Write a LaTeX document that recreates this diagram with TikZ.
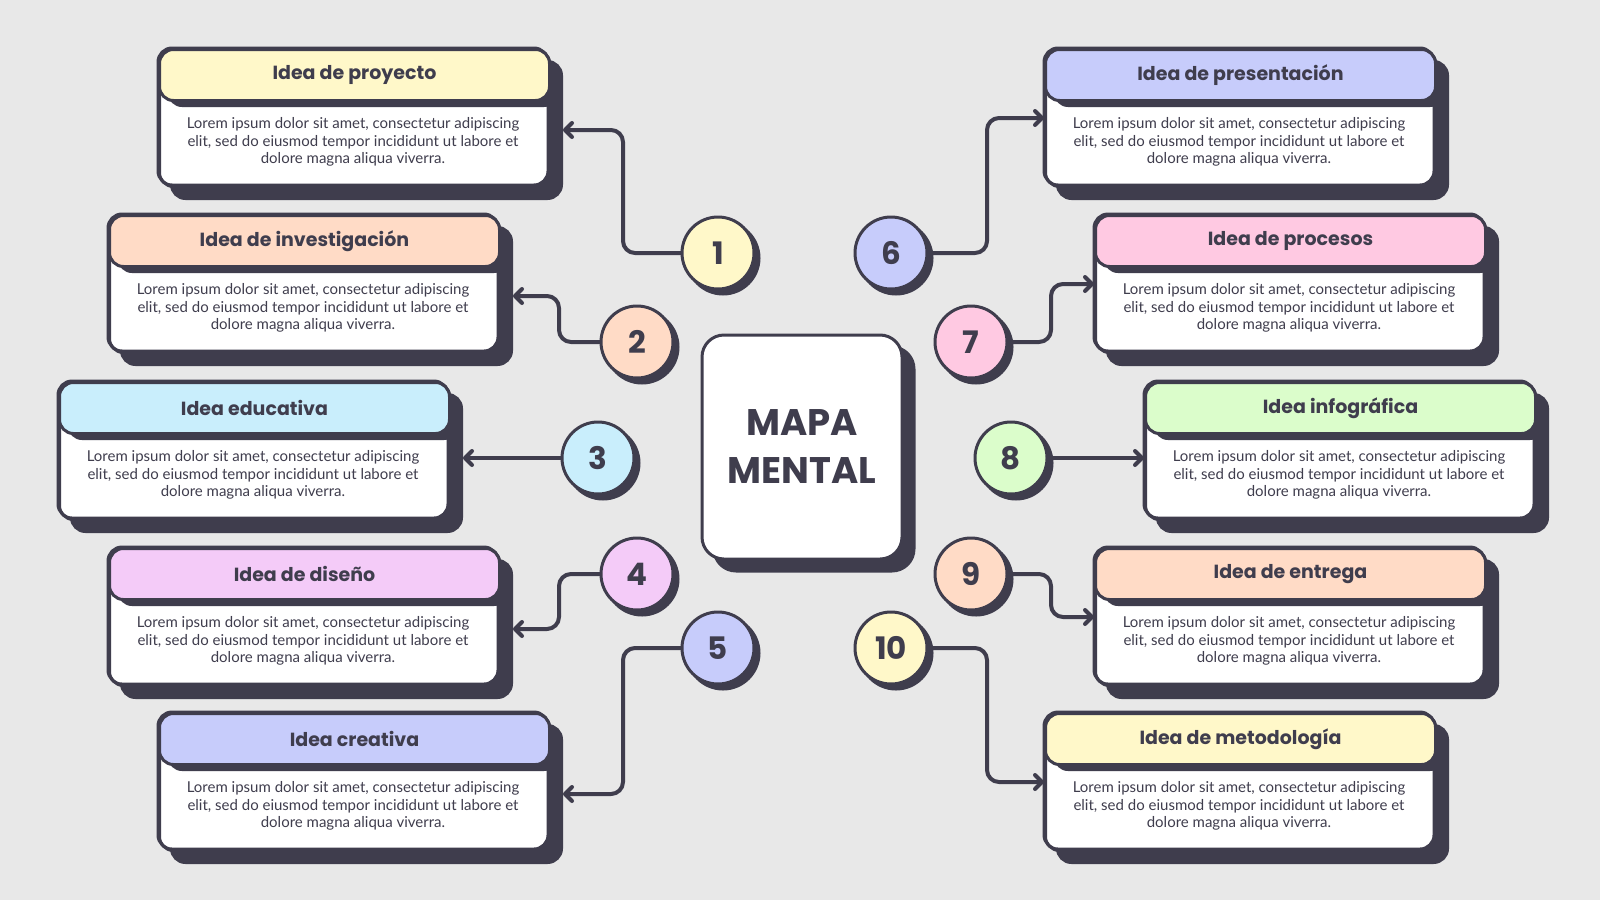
\documentclass[tikz,border=0pt]{standalone}
\usepackage{fontspec}
\setmainfont{Lato}
\newfontfamily\titlefont{Poppins}
\usetikzlibrary{arrows.meta}
\definecolor{bg}{HTML}{E8E8E8}
\definecolor{ink}{HTML}{3F3D4D}
\definecolor{cyel}{HTML}{FFF8C9}
\definecolor{cpea}{HTML}{FFDBC6}
\definecolor{cblu}{HTML}{C9EEFC}
\definecolor{cpur}{HTML}{F4CBF8}
\definecolor{clav}{HTML}{C7CCFB}
\definecolor{cpnk}{HTML}{FFC9E2}
\definecolor{cgrn}{HTML}{DBFDCB}
\tikzset{
  cardshadow/.style={fill=ink, draw=ink, line width=3pt, rounded corners=14pt,
    minimum width=390pt, minimum height=137pt, anchor=north west, inner sep=0pt},
  cardbody/.style={fill=white, draw=ink, line width=3pt, rounded corners=14pt,
    minimum width=390pt, minimum height=137pt, anchor=north west, inner sep=0pt},
  cardhead/.style={draw=ink, line width=3pt, rounded corners=14pt,
    minimum width=390pt, minimum height=51pt, anchor=north west, inner sep=0pt,
    text=ink, font=\titlefont\bfseries\fontsize{19}{22}\selectfont},
  cardtext/.style={text=ink, align=center, inner sep=0pt,
    font=\fontsize{15}{17.5}\selectfont},
  numshadow/.style={circle, fill=ink, draw=ink, line width=3pt, minimum size=72pt, inner sep=0pt},
  numcirc/.style={circle, draw=ink, line width=3pt, minimum size=72pt, inner sep=0pt,
    text=ink, font=\titlefont\bfseries\fontsize{31}{31}\selectfont},
  conn/.style={draw=ink, line width=4pt, line cap=round, line join=round, rounded corners=12pt,
    -{Straight Barb[length=7pt,width=14pt,line cap=round,line join=round]}},
}
\newcommand\ideacard[5]{%
  \node[cardshadow] (s#1) at ({#2+12},{#3+12}) {};
  \node[cardbody] (b#1) at (#2,#3) {};
  \begin{scope}
    \clip[rounded corners=14pt] (#2,#3) rectangle ++(390,137);
    \fill[ink, rounded corners=14pt] ({#2+10},{#3+8}) rectangle ++(390,51);
  \end{scope}
  \draw[ink, line width=3pt, rounded corners=14pt] (#2,#3) rectangle ++(390,137);
  \node[cardhead, fill=#4] (h#1) at (#2,#3) {#5};
  \node[cardtext] (t#1) at ({#2+195},{#3+94}) {Lorem ipsum dolor sit amet, consectetur adipiscing\\elit, sed do eiusmod tempor incididunt ut labore et\\dolore magna aliqua viverra.};
}
\newcommand\numnode[5]{%
  \node[numshadow] (ns#1) at ({#2+5},{#3+5}) {};
  \node[numcirc, fill=#4] (n#1) at (#2,#3) {#5};
}
\begin{document}
\begin{tikzpicture}[x=1pt,y=-1pt]
\fill[bg] (0,0) rectangle (1600,900);
\useasboundingbox (0,0) rectangle (1600,900);

\ideacard{1}{158}{48}{cyel}{Idea de proyecto}
\ideacard{2}{108}{214}{cpea}{Idea de investigación}
\ideacard{3}{58}{381}{cblu}{Idea educativa}
\ideacard{4}{108}{547}{cpur}{Idea de diseño}
\ideacard{5}{158}{712}{clav}{Idea creativa}
\ideacard{6}{1044}{48}{clav}{Idea de presentación}
\ideacard{7}{1094}{214}{cpnk}{Idea de procesos}
\ideacard{8}{1144}{381}{cgrn}{Idea infográfica}
\ideacard{9}{1094}{547}{cpea}{Idea de entrega}
\ideacard{10}{1044}{712}{cyel}{Idea de metodología}

% center
\node[fill=ink, draw=ink, line width=3pt, rounded corners=22pt, minimum width=200pt,
  minimum height=224pt, inner sep=0pt] (centershadow) at (814,459) {};
\node[fill=white, draw=ink, line width=3pt, rounded corners=22pt, minimum width=200pt,
  minimum height=224pt, inner sep=0pt, text=ink, align=center,
  font=\titlefont\bfseries\fontsize{37}{48}\selectfont] (center) at (802,447) {MAPA\\MENTAL};

\numnode{1}{718}{253}{cyel}{1}
\numnode{2}{637}{342}{cpea}{2}
\numnode{3}{598}{458}{cblu}{3}
\numnode{4}{637}{574}{cpur}{4}
\numnode{5}{718}{648}{clav}{5}
\numnode{6}{891}{253}{clav}{6}
\numnode{7}{971}{342}{cpnk}{7}
\numnode{8}{1011}{458}{cgrn}{8}
\numnode{9}{971}{574}{cpea}{9}
\numnode{10}{891}{648}{cyel}{10}

\draw[conn] (n1.west) -| ([xshift=60pt]s1.east) -- (s1.east);
\draw[conn] (n2.west) -| ([xshift=46pt]s2.east) -- (s2.east);
\draw[conn] (n3.west) -- (n3.west -| s3.east);
\draw[conn] (n4.west) -| ([xshift=46pt]s4.east) -- (s4.east);
\draw[conn] (n5.west) -| ([xshift=60pt]s5.east) -- (s5.east);
\draw[conn] (n6.east) -| ([xshift=-57pt]b6.west) -- (b6.west);
\draw[conn] (n7.east) -| ([xshift=-43pt]b7.west) -- (b7.west);
\draw[conn] (n8.east) -- (n8.east -| b8.west);
\draw[conn] (n9.east) -| ([xshift=-43pt]b9.west) -- (b9.west);
\draw[conn] (n10.east) -| ([xshift=-57pt]b10.west) -- (b10.west);
\end{tikzpicture}
\end{document}
